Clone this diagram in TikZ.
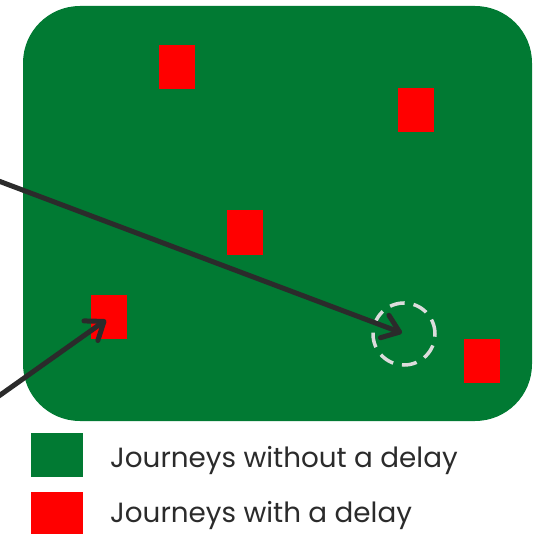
\documentclass[tikz,border=0pt]{standalone}
\usepackage{fontspec}
\setmainfont{Poppins}
\usetikzlibrary{arrows.meta}
\definecolor{jgreen}{HTML}{017A33}
\definecolor{jred}{HTML}{FF0000}
\definecolor{inkdark}{HTML}{2B2B2B}
\definecolor{ringgrey}{HTML}{DCDCDC}
\tikzset{
  delaybox/.style={fill=jred, inner sep=0pt, minimum width=36pt, minimum height=44pt},
  legendbox/.style={inner sep=0pt, minimum width=52pt, minimum height=44pt},
  pointer/.style={draw=inkdark, line width=5pt, line cap=round,
    -{Straight Barb[length=16pt,width=24pt,line cap=round,line join=round]}},
  legendtext/.style={anchor=base west, inner sep=0pt, text=inkdark, font=\fontsize{27.8}{32}\selectfont}
}
\begin{document}
\begin{tikzpicture}[x=1pt,y=-1pt]
\useasboundingbox (0,0) rectangle (534,534);
\fill[jgreen, rounded corners=57pt] (23,6) rectangle (532,421);
\node[delaybox] (r1) at (177,67) {};
\node[delaybox] (r2) at (245,232.5) {};
\node[delaybox] (r3) at (416,110.5) {};
\node[delaybox] (r4) at (109,317) {};
\node[delaybox] (r5) at (482,361) {};
\node[circle, draw=ringgrey, line width=3.5pt, dash pattern=on 15pt off 9pt, minimum size=62pt, inner sep=0pt] (ring) at (404,334) {};
\coordinate (s1) at (-4,180);
\coordinate (s2) at (-4,398);
\draw[pointer] (s1) -- ([shift={(-2,-1)}]ring.center);
\draw[pointer] (s2) -- ([shift={(-3,3)}]r4.center);
\node[legendbox, fill=jgreen] (lg) at (57,455) {};
\node[legendbox, fill=jred] (lr) at (57,514) {};
\node[legendtext] (tg) at (110,467) {Journeys without a delay};
\node[legendtext] (tr) at (110,522) {Journeys with a delay};
\end{tikzpicture}
\end{document}
